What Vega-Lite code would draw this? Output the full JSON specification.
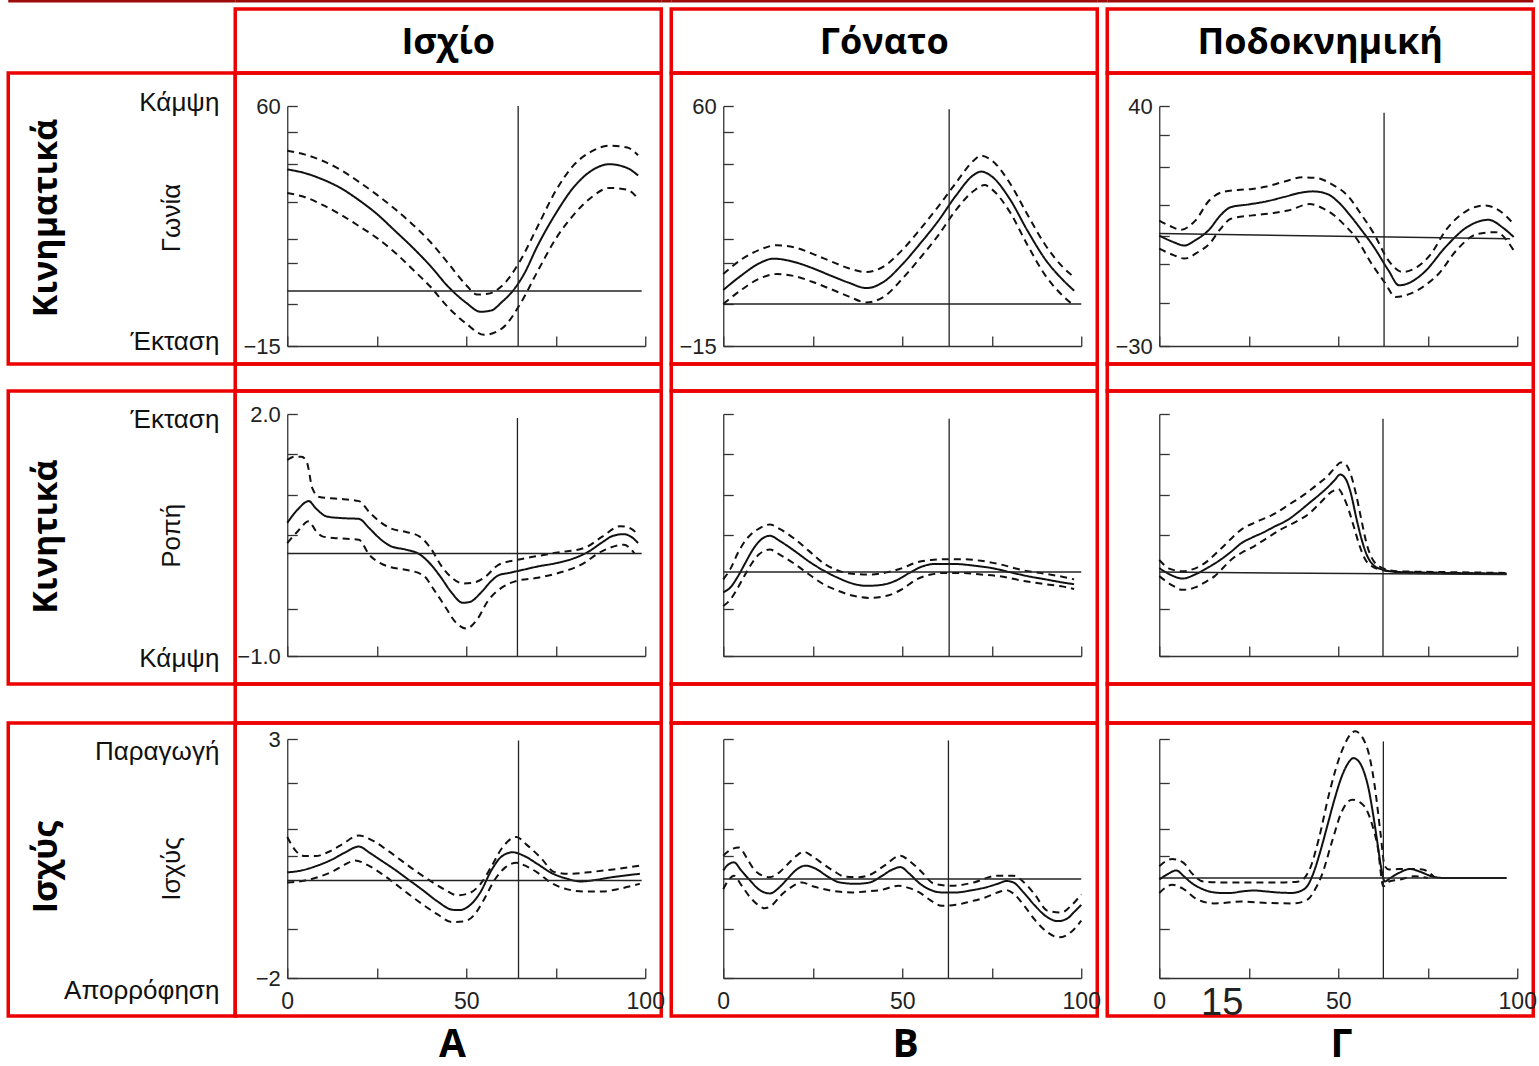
{
"$schema": "https://vega.github.io/schema/vega-lite/v6.json",
"background": "white",
"padding": {"left": 6.25, "top": 0, "right": 0, "bottom": 0},
"config": {
  "view": {"stroke": null},
  "axis": {"grid": false, "domainColor": "#333", "tickColor": "#333", "domainWidth": 1.3, "tickWidth": 1.3, "tickSize": -10, "labelFont": "Liberation Sans", "labelFontSize": 22, "labelColor": "#222", "labelFlush": false, "labelOverlap": false, "labelPadding": 17},
  "axisX": {"labelFontSize": 23, "labelPadding": 22}
},
"datasets": {
"hk": [
{"x":0,"v":40.2,"s":"m"},{"x":5,"v":39.0,"s":"m"},{"x":10,"v":37.0,"s":"m"},{"x":15,"v":34.3,"s":"m"},{"x":20,"v":30.6,"s":"m"},{"x":25,"v":26.3,"s":"m"},{"x":30,"v":21.1,"s":"m"},{"x":35,"v":15.8,"s":"m"},{"x":40,"v":10.0,"s":"m"},{"x":45,"v":3.5,"s":"m"},{"x":50,"v":-1.5,"s":"m"},{"x":54,"v":-4.3,"s":"m"},{"x":57,"v":-3.9,"s":"m"},{"x":60,"v":-1.2,"s":"m"},{"x":63,"v":2.2,"s":"m"},{"x":66,"v":7.2,"s":"m"},{"x":70,"v":16.5,"s":"m"},{"x":75,"v":26.4,"s":"m"},{"x":80,"v":34.6,"s":"m"},{"x":85,"v":39.8,"s":"m"},{"x":90,"v":41.8,"s":"m"},{"x":95,"v":40.6,"s":"m"},{"x":98,"v":38.3,"s":"m"},
{"x":0,"v":46.0,"s":"u"},{"x":5,"v":44.8,"s":"u"},{"x":10,"v":42.8,"s":"u"},{"x":15,"v":40.0,"s":"u"},{"x":20,"v":36.3,"s":"u"},{"x":25,"v":32.3,"s":"u"},{"x":30,"v":27.9,"s":"u"},{"x":35,"v":23.0,"s":"u"},{"x":40,"v":17.5,"s":"u"},{"x":45,"v":10.8,"s":"u"},{"x":50,"v":4.0,"s":"u"},{"x":53,"v":1.1,"s":"u"},{"x":56,"v":1.3,"s":"u"},{"x":60,"v":3.8,"s":"u"},{"x":65,"v":11.5,"s":"u"},{"x":70,"v":22.5,"s":"u"},{"x":75,"v":33.5,"s":"u"},{"x":80,"v":41.5,"s":"u"},{"x":85,"v":45.8,"s":"u"},{"x":90,"v":47.6,"s":"u"},{"x":95,"v":47.0,"s":"u"},{"x":98,"v":44.6,"s":"u"},
{"x":0,"v":32.8,"s":"l"},{"x":5,"v":31.5,"s":"l"},{"x":10,"v":29.0,"s":"l"},{"x":15,"v":26.0,"s":"l"},{"x":20,"v":22.5,"s":"l"},{"x":25,"v":18.8,"s":"l"},{"x":30,"v":14.3,"s":"l"},{"x":35,"v":9.0,"s":"l"},{"x":40,"v":3.5,"s":"l"},{"x":45,"v":-3.0,"s":"l"},{"x":50,"v":-8.0,"s":"l"},{"x":55,"v":-11.5,"s":"l"},{"x":60,"v":-9.5,"s":"l"},{"x":65,"v":-2.0,"s":"l"},{"x":70,"v":8.5,"s":"l"},{"x":75,"v":18.5,"s":"l"},{"x":80,"v":26.0,"s":"l"},{"x":85,"v":31.5,"s":"l"},{"x":90,"v":34.4,"s":"l"},{"x":95,"v":33.8,"s":"l"},{"x":98,"v":31.0,"s":"l"}
],
"kk": [
{"x":0,"v":2.5,"s":"m"},{"x":5,"v":7.0,"s":"m"},{"x":10,"v":10.8,"s":"m"},{"x":14,"v":12.3,"s":"m"},{"x":20,"v":11.2,"s":"m"},{"x":25,"v":9.3,"s":"m"},{"x":30,"v":7.0,"s":"m"},{"x":35,"v":4.8,"s":"m"},{"x":40,"v":3.1,"s":"m"},{"x":45,"v":5.2,"s":"m"},{"x":50,"v":10.5,"s":"m"},{"x":55,"v":17.0,"s":"m"},{"x":60,"v":24.0,"s":"m"},{"x":65,"v":32.0,"s":"m"},{"x":70,"v":38.5,"s":"m"},{"x":72,"v":39.5,"s":"m"},{"x":75,"v":38.0,"s":"m"},{"x":80,"v":31.0,"s":"m"},{"x":85,"v":21.0,"s":"m"},{"x":90,"v":12.0,"s":"m"},{"x":95,"v":5.5,"s":"m"},{"x":98,"v":2.3,"s":"m"},
{"x":0,"v":7.5,"s":"u"},{"x":5,"v":12.0,"s":"u"},{"x":10,"v":15.0,"s":"u"},{"x":15,"v":16.5,"s":"u"},{"x":20,"v":15.8,"s":"u"},{"x":25,"v":13.8,"s":"u"},{"x":30,"v":11.5,"s":"u"},{"x":35,"v":9.3,"s":"u"},{"x":40,"v":8.1,"s":"u"},{"x":45,"v":10.0,"s":"u"},{"x":50,"v":15.0,"s":"u"},{"x":55,"v":21.5,"s":"u"},{"x":60,"v":28.5,"s":"u"},{"x":65,"v":36.0,"s":"u"},{"x":70,"v":43.0,"s":"u"},{"x":72,"v":44.5,"s":"u"},{"x":75,"v":43.0,"s":"u"},{"x":80,"v":36.0,"s":"u"},{"x":85,"v":26.0,"s":"u"},{"x":90,"v":16.5,"s":"u"},{"x":95,"v":9.5,"s":"u"},{"x":98,"v":6.5,"s":"u"},
{"x":0,"v":-1.9,"s":"l"},{"x":5,"v":2.5,"s":"l"},{"x":10,"v":6.0,"s":"l"},{"x":15,"v":7.5,"s":"l"},{"x":20,"v":6.8,"s":"l"},{"x":25,"v":5.0,"s":"l"},{"x":30,"v":2.8,"s":"l"},{"x":35,"v":0.5,"s":"l"},{"x":40,"v":-1.4,"s":"l"},{"x":45,"v":0.5,"s":"l"},{"x":50,"v":6.0,"s":"l"},{"x":55,"v":12.5,"s":"l"},{"x":60,"v":19.5,"s":"l"},{"x":65,"v":27.5,"s":"l"},{"x":70,"v":33.5,"s":"l"},{"x":73,"v":35.3,"s":"l"},{"x":75,"v":34.0,"s":"l"},{"x":80,"v":27.0,"s":"l"},{"x":85,"v":16.5,"s":"l"},{"x":90,"v":7.0,"s":"l"},{"x":95,"v":0.5,"s":"l"},{"x":98,"v":-2.4,"s":"l"}
],
"ak": [
{"x":0,"v":2.2,"s":"m"},{"x":4,"v":0.3,"s":"m"},{"x":7,"v":-0.7,"s":"m"},{"x":10,"v":0.8,"s":"m"},{"x":14,"v":4.0,"s":"m"},{"x":17,"v":8.0,"s":"m"},{"x":20,"v":10.5,"s":"m"},{"x":25,"v":11.3,"s":"m"},{"x":30,"v":12.2,"s":"m"},{"x":35,"v":13.5,"s":"m"},{"x":40,"v":14.8,"s":"m"},{"x":43,"v":15.1,"s":"m"},{"x":47,"v":14.3,"s":"m"},{"x":50,"v":12.0,"s":"m"},{"x":53,"v":8.5,"s":"m"},{"x":56,"v":4.5,"s":"m"},{"x":60,"v":-1.2,"s":"m"},{"x":64,"v":-7.9,"s":"m"},{"x":67,"v":-12.3,"s":"m"},{"x":70,"v":-11.5,"s":"m"},{"x":74,"v":-8.5,"s":"m"},{"x":80,"v":-1.1,"s":"m"},{"x":86,"v":4.7,"s":"m"},{"x":92,"v":6.8,"s":"m"},{"x":96,"v":4.5,"s":"m"},{"x":99,"v":1.8,"s":"m"},
{"x":0,"v":6.6,"s":"u"},{"x":3,"v":5.0,"s":"u"},{"x":6,"v":3.9,"s":"u"},{"x":10,"v":6.5,"s":"u"},{"x":14,"v":12.5,"s":"u"},{"x":18,"v":15.0,"s":"u"},{"x":22,"v":15.5,"s":"u"},{"x":26,"v":15.8,"s":"u"},{"x":30,"v":16.5,"s":"u"},{"x":35,"v":18.0,"s":"u"},{"x":40,"v":19.2,"s":"u"},{"x":44,"v":19.0,"s":"u"},{"x":48,"v":17.3,"s":"u"},{"x":53,"v":13.4,"s":"u"},{"x":56,"v":9.0,"s":"u"},{"x":60,"v":2.7,"s":"u"},{"x":64,"v":-5.0,"s":"u"},{"x":68,"v":-8.4,"s":"u"},{"x":72,"v":-7.0,"s":"u"},{"x":76,"v":-3.0,"s":"u"},{"x":80,"v":3.7,"s":"u"},{"x":86,"v":9.5,"s":"u"},{"x":91,"v":11.0,"s":"u"},{"x":95,"v":9.5,"s":"u"},{"x":99,"v":5.6,"s":"u"},
{"x":0,"v":-1.6,"s":"l"},{"x":4,"v":-3.5,"s":"l"},{"x":7,"v":-4.5,"s":"l"},{"x":11,"v":-2.5,"s":"l"},{"x":14,"v":-0.2,"s":"l"},{"x":17,"v":4.0,"s":"l"},{"x":20,"v":7.1,"s":"l"},{"x":26,"v":8.1,"s":"l"},{"x":32,"v":8.8,"s":"l"},{"x":36,"v":9.5,"s":"l"},{"x":42,"v":11.4,"s":"l"},{"x":46,"v":10.0,"s":"l"},{"x":49,"v":8.0,"s":"l"},{"x":52,"v":5.0,"s":"l"},{"x":55,"v":1.5,"s":"l"},{"x":59,"v":-5.5,"s":"l"},{"x":63,"v":-11.5,"s":"l"},{"x":66,"v":-15.7,"s":"l"},{"x":70,"v":-14.8,"s":"l"},{"x":74,"v":-12.5,"s":"l"},{"x":78,"v":-9.0,"s":"l"},{"x":83,"v":-2.1,"s":"l"},{"x":89,"v":2.7,"s":"l"},{"x":94,"v":3.2,"s":"l"},{"x":99,"v":-2.1,"s":"l"}
],
"hm": [
{"x":0,"v":0.65,"s":"m"},{"x":3,"v":0.82,"s":"m"},{"x":6,"v":0.92,"s":"m"},{"x":8,"v":0.83,"s":"m"},{"x":11,"v":0.73,"s":"m"},{"x":15,"v":0.71,"s":"m"},{"x":20,"v":0.70,"s":"m"},{"x":23,"v":0.58,"s":"m"},{"x":26,"v":0.45,"s":"m"},{"x":29,"v":0.36,"s":"m"},{"x":33,"v":0.32,"s":"m"},{"x":37,"v":0.26,"s":"m"},{"x":40,"v":0.14,"s":"m"},{"x":43,"v":-0.03,"s":"m"},{"x":46,"v":-0.22,"s":"m"},{"x":49,"v":-0.34,"s":"m"},{"x":51,"v":-0.33,"s":"m"},{"x":54,"v":-0.22,"s":"m"},{"x":57,"v":-0.07,"s":"m"},{"x":59,"v":0.0,"s":"m"},{"x":62,"v":0.03,"s":"m"},{"x":66,"v":0.07,"s":"m"},{"x":70,"v":0.11,"s":"m"},{"x":75,"v":0.15,"s":"m"},{"x":80,"v":0.21,"s":"m"},{"x":84,"v":0.29,"s":"m"},{"x":88,"v":0.41,"s":"m"},{"x":91,"v":0.49,"s":"m"},{"x":94,"v":0.51,"s":"m"},{"x":96,"v":0.48,"s":"m"},{"x":98,"v":0.40,"s":"m"},
{"x":0,"v":1.43,"s":"u"},{"x":2,"v":1.47,"s":"u"},{"x":4,"v":1.47,"s":"u"},{"x":5.5,"v":1.40,"s":"u"},{"x":7,"v":1.08,"s":"u"},{"x":9,"v":0.97,"s":"u"},{"x":14,"v":0.95,"s":"u"},{"x":20,"v":0.92,"s":"u"},{"x":23,"v":0.78,"s":"u"},{"x":26,"v":0.66,"s":"u"},{"x":29,"v":0.58,"s":"u"},{"x":33,"v":0.54,"s":"u"},{"x":37,"v":0.48,"s":"u"},{"x":40,"v":0.34,"s":"u"},{"x":43,"v":0.12,"s":"u"},{"x":46,"v":-0.03,"s":"u"},{"x":49,"v":-0.10,"s":"u"},{"x":52,"v":-0.09,"s":"u"},{"x":55,"v":-0.03,"s":"u"},{"x":59,"v":0.13,"s":"u"},{"x":64,"v":0.19,"s":"u"},{"x":70,"v":0.24,"s":"u"},{"x":75,"v":0.28,"s":"u"},{"x":83,"v":0.34,"s":"u"},{"x":88,"v":0.48,"s":"u"},{"x":93,"v":0.61,"s":"u"},{"x":96,"v":0.58,"s":"u"},{"x":98,"v":0.50,"s":"u"},
{"x":0,"v":0.40,"s":"l"},{"x":3,"v":0.55,"s":"l"},{"x":6,"v":0.67,"s":"l"},{"x":8,"v":0.55,"s":"l"},{"x":10,"v":0.48,"s":"l"},{"x":14,"v":0.46,"s":"l"},{"x":20,"v":0.44,"s":"l"},{"x":23,"v":0.25,"s":"l"},{"x":26,"v":0.15,"s":"l"},{"x":29,"v":0.10,"s":"l"},{"x":33,"v":0.07,"s":"l"},{"x":38,"v":0.0,"s":"l"},{"x":41,"v":-0.18,"s":"l"},{"x":44,"v":-0.38,"s":"l"},{"x":47,"v":-0.58,"s":"l"},{"x":50,"v":-0.66,"s":"l"},{"x":53,"v":-0.55,"s":"l"},{"x":56,"v":-0.32,"s":"l"},{"x":60,"v":-0.15,"s":"l"},{"x":64,"v":-0.07,"s":"l"},{"x":70,"v":-0.03,"s":"l"},{"x":75,"v":0.02,"s":"l"},{"x":82,"v":0.13,"s":"l"},{"x":88,"v":0.30,"s":"l"},{"x":94,"v":0.38,"s":"l"},{"x":97,"v":0.27,"s":"l"}
],
"km": [
{"x":0,"v":-0.21,"s":"m"},{"x":2,"v":-0.15,"s":"m"},{"x":4,"v":-0.02,"s":"m"},{"x":6,"v":0.14,"s":"m"},{"x":8,"v":0.30,"s":"m"},{"x":10,"v":0.42,"s":"m"},{"x":13,"v":0.49,"s":"m"},{"x":16,"v":0.42,"s":"m"},{"x":20,"v":0.30,"s":"m"},{"x":24,"v":0.17,"s":"m"},{"x":28,"v":0.06,"s":"m"},{"x":32,"v":-0.03,"s":"m"},{"x":36,"v":-0.10,"s":"m"},{"x":40,"v":-0.13,"s":"m"},{"x":44,"v":-0.12,"s":"m"},{"x":48,"v":-0.07,"s":"m"},{"x":52,"v":0.03,"s":"m"},{"x":55,"v":0.10,"s":"m"},{"x":59,"v":0.14,"s":"m"},{"x":65,"v":0.14,"s":"m"},{"x":70,"v":0.12,"s":"m"},{"x":75,"v":0.09,"s":"m"},{"x":80,"v":0.04,"s":"m"},{"x":85,"v":-0.01,"s":"m"},{"x":90,"v":-0.05,"s":"m"},{"x":95,"v":-0.09,"s":"m"},{"x":98,"v":-0.11,"s":"m"},
{"x":0,"v":-0.05,"s":"u"},{"x":2,"v":0.08,"s":"u"},{"x":4,"v":0.27,"s":"u"},{"x":6,"v":0.42,"s":"u"},{"x":8,"v":0.52,"s":"u"},{"x":10,"v":0.58,"s":"u"},{"x":13,"v":0.63,"s":"u"},{"x":16,"v":0.57,"s":"u"},{"x":20,"v":0.45,"s":"u"},{"x":24,"v":0.30,"s":"u"},{"x":28,"v":0.15,"s":"u"},{"x":32,"v":0.06,"s":"u"},{"x":36,"v":0.02,"s":"u"},{"x":41,"v":0.01,"s":"u"},{"x":46,"v":0.04,"s":"u"},{"x":50,"v":0.09,"s":"u"},{"x":54,"v":0.16,"s":"u"},{"x":58,"v":0.19,"s":"u"},{"x":62,"v":0.20,"s":"u"},{"x":67,"v":0.20,"s":"u"},{"x":72,"v":0.18,"s":"u"},{"x":77,"v":0.14,"s":"u"},{"x":84,"v":0.06,"s":"u"},{"x":90,"v":0.02,"s":"u"},{"x":95,"v":-0.02,"s":"u"},{"x":98,"v":-0.05,"s":"u"},
{"x":0,"v":-0.38,"s":"l"},{"x":2,"v":-0.30,"s":"l"},{"x":4,"v":-0.16,"s":"l"},{"x":6,"v":0.0,"s":"l"},{"x":8,"v":0.15,"s":"l"},{"x":10,"v":0.26,"s":"l"},{"x":13,"v":0.32,"s":"l"},{"x":16,"v":0.25,"s":"l"},{"x":20,"v":0.14,"s":"l"},{"x":24,"v":0.01,"s":"l"},{"x":28,"v":-0.11,"s":"l"},{"x":32,"v":-0.19,"s":"l"},{"x":36,"v":-0.25,"s":"l"},{"x":41,"v":-0.28,"s":"l"},{"x":46,"v":-0.25,"s":"l"},{"x":50,"v":-0.17,"s":"l"},{"x":54,"v":-0.05,"s":"l"},{"x":58,"v":0.01,"s":"l"},{"x":62,"v":0.03,"s":"l"},{"x":67,"v":0.03,"s":"l"},{"x":72,"v":0.01,"s":"l"},{"x":77,"v":-0.01,"s":"l"},{"x":84,"v":-0.07,"s":"l"},{"x":90,"v":-0.11,"s":"l"},{"x":95,"v":-0.14,"s":"l"},{"x":98,"v":-0.17,"s":"l"}
],
"am": [
{"x":0,"v":0.09,"s":"m"},{"x":3,"v":0.01,"s":"m"},{"x":6.5,"v":-0.04,"s":"m"},{"x":10,"v":0.01,"s":"m"},{"x":13,"v":0.08,"s":"m"},{"x":17,"v":0.19,"s":"m"},{"x":20,"v":0.29,"s":"m"},{"x":23,"v":0.40,"s":"m"},{"x":26,"v":0.47,"s":"m"},{"x":29,"v":0.53,"s":"m"},{"x":32,"v":0.60,"s":"m"},{"x":36,"v":0.69,"s":"m"},{"x":39,"v":0.79,"s":"m"},{"x":42,"v":0.90,"s":"m"},{"x":45,"v":1.01,"s":"m"},{"x":47,"v":1.09,"s":"m"},{"x":49,"v":1.18,"s":"m"},{"x":50.5,"v":1.25,"s":"m"},{"x":52,"v":1.20,"s":"m"},{"x":53.5,"v":1.02,"s":"m"},{"x":55,"v":0.72,"s":"m"},{"x":56.5,"v":0.45,"s":"m"},{"x":58,"v":0.25,"s":"m"},{"x":60,"v":0.12,"s":"m"},{"x":62.5,"v":0.07,"s":"m"},{"x":67,"v":0.04,"s":"m"},{"x":80,"v":0.03,"s":"m"},{"x":97,"v":0.02,"s":"m"},
{"x":0,"v":0.19,"s":"u"},{"x":3,"v":0.08,"s":"u"},{"x":6.5,"v":0.05,"s":"u"},{"x":9,"v":0.07,"s":"u"},{"x":12,"v":0.13,"s":"u"},{"x":17,"v":0.32,"s":"u"},{"x":20,"v":0.45,"s":"u"},{"x":23,"v":0.57,"s":"u"},{"x":27,"v":0.66,"s":"u"},{"x":32.5,"v":0.77,"s":"u"},{"x":36,"v":0.87,"s":"u"},{"x":40.5,"v":1.00,"s":"u"},{"x":44,"v":1.12,"s":"u"},{"x":47,"v":1.23,"s":"u"},{"x":49,"v":1.33,"s":"u"},{"x":50.7,"v":1.40,"s":"u"},{"x":52,"v":1.38,"s":"u"},{"x":53.5,"v":1.25,"s":"u"},{"x":55,"v":1.00,"s":"u"},{"x":56.5,"v":0.68,"s":"u"},{"x":58,"v":0.38,"s":"u"},{"x":60,"v":0.17,"s":"u"},{"x":63,"v":0.08,"s":"u"},{"x":67,"v":0.05,"s":"u"},{"x":80,"v":0.04,"s":"u"},{"x":97,"v":0.03,"s":"u"},
{"x":0,"v":-0.01,"s":"l"},{"x":3.5,"v":-0.12,"s":"l"},{"x":6.5,"v":-0.18,"s":"l"},{"x":10,"v":-0.15,"s":"l"},{"x":13,"v":-0.08,"s":"l"},{"x":15.5,"v":-0.01,"s":"l"},{"x":18,"v":0.10,"s":"l"},{"x":20,"v":0.19,"s":"l"},{"x":23,"v":0.28,"s":"l"},{"x":26.5,"v":0.36,"s":"l"},{"x":30,"v":0.46,"s":"l"},{"x":34,"v":0.57,"s":"l"},{"x":38,"v":0.66,"s":"l"},{"x":42,"v":0.77,"s":"l"},{"x":45,"v":0.90,"s":"l"},{"x":48.3,"v":1.04,"s":"l"},{"x":50,"v":1.07,"s":"l"},{"x":51.5,"v":0.97,"s":"l"},{"x":53,"v":0.80,"s":"l"},{"x":54.5,"v":0.58,"s":"l"},{"x":56,"v":0.36,"s":"l"},{"x":57.5,"v":0.20,"s":"l"},{"x":59.5,"v":0.11,"s":"l"},{"x":62,"v":0.07,"s":"l"},{"x":67,"v":0.04,"s":"l"},{"x":80,"v":0.03,"s":"l"},{"x":97,"v":0.02,"s":"l"}
],
"hp": [
{"x":0,"v":0.21,"s":"m"},{"x":4,"v":0.25,"s":"m"},{"x":8,"v":0.34,"s":"m"},{"x":12,"v":0.46,"s":"m"},{"x":16,"v":0.62,"s":"m"},{"x":20,"v":0.75,"s":"m"},{"x":23,"v":0.62,"s":"m"},{"x":26,"v":0.47,"s":"m"},{"x":30,"v":0.27,"s":"m"},{"x":34,"v":0.05,"s":"m"},{"x":38,"v":-0.17,"s":"m"},{"x":42,"v":-0.40,"s":"m"},{"x":46,"v":-0.57,"s":"m"},{"x":48,"v":-0.58,"s":"m"},{"x":51,"v":-0.48,"s":"m"},{"x":54,"v":-0.20,"s":"m"},{"x":57,"v":0.25,"s":"m"},{"x":60,"v":0.55,"s":"m"},{"x":63,"v":0.63,"s":"m"},{"x":66,"v":0.56,"s":"m"},{"x":70,"v":0.38,"s":"m"},{"x":74,"v":0.19,"s":"m"},{"x":78,"v":0.08,"s":"m"},{"x":82,"v":0.02,"s":"m"},{"x":86,"v":0.05,"s":"m"},{"x":90,"v":0.10,"s":"m"},{"x":95,"v":0.15,"s":"m"},{"x":98.5,"v":0.18,"s":"m"},
{"x":0,"v":0.95,"s":"u"},{"x":2.5,"v":0.65,"s":"u"},{"x":5,"v":0.55,"s":"u"},{"x":8,"v":0.55,"s":"u"},{"x":11,"v":0.62,"s":"u"},{"x":15,"v":0.78,"s":"u"},{"x":20,"v":0.98,"s":"u"},{"x":24,"v":0.87,"s":"u"},{"x":28,"v":0.67,"s":"u"},{"x":32,"v":0.45,"s":"u"},{"x":36,"v":0.23,"s":"u"},{"x":40,"v":0.03,"s":"u"},{"x":44,"v":-0.15,"s":"u"},{"x":47.5,"v":-0.27,"s":"u"},{"x":51,"v":-0.22,"s":"u"},{"x":54,"v":-0.03,"s":"u"},{"x":57,"v":0.33,"s":"u"},{"x":60,"v":0.72,"s":"u"},{"x":64,"v":0.95,"s":"u"},{"x":67,"v":0.78,"s":"u"},{"x":71,"v":0.50,"s":"u"},{"x":74.5,"v":0.22,"s":"u"},{"x":79,"v":0.18,"s":"u"},{"x":85,"v":0.22,"s":"u"},{"x":92,"v":0.28,"s":"u"},{"x":98.5,"v":0.35,"s":"u"},
{"x":0,"v":0.0,"s":"l"},{"x":5,"v":0.04,"s":"l"},{"x":9,"v":0.12,"s":"l"},{"x":13,"v":0.24,"s":"l"},{"x":16,"v":0.37,"s":"l"},{"x":19,"v":0.46,"s":"l"},{"x":22,"v":0.38,"s":"l"},{"x":26,"v":0.20,"s":"l"},{"x":30,"v":-0.02,"s":"l"},{"x":34,"v":-0.25,"s":"l"},{"x":38,"v":-0.47,"s":"l"},{"x":42,"v":-0.67,"s":"l"},{"x":46,"v":-0.83,"s":"l"},{"x":49,"v":-0.82,"s":"l"},{"x":52,"v":-0.70,"s":"l"},{"x":55,"v":-0.35,"s":"l"},{"x":58,"v":0.06,"s":"l"},{"x":61,"v":0.32,"s":"l"},{"x":64,"v":0.41,"s":"l"},{"x":67,"v":0.33,"s":"l"},{"x":70,"v":0.20,"s":"l"},{"x":73.5,"v":0.0,"s":"l"},{"x":78,"v":-0.14,"s":"l"},{"x":83,"v":-0.19,"s":"l"},{"x":88,"v":-0.19,"s":"l"},{"x":93,"v":-0.13,"s":"l"},{"x":98.5,"v":-0.03,"s":"l"}
],
"kp": [
{"x":0,"v":0.25,"s":"m"},{"x":1.5,"v":0.38,"s":"m"},{"x":3,"v":0.42,"s":"m"},{"x":5,"v":0.25,"s":"m"},{"x":7.5,"v":0.04,"s":"m"},{"x":10,"v":-0.15,"s":"m"},{"x":13,"v":-0.23,"s":"m"},{"x":16,"v":-0.08,"s":"m"},{"x":18,"v":0.08,"s":"m"},{"x":20.5,"v":0.27,"s":"m"},{"x":23,"v":0.35,"s":"m"},{"x":26,"v":0.28,"s":"m"},{"x":29,"v":0.13,"s":"m"},{"x":32.5,"v":0.0,"s":"m"},{"x":37,"v":-0.03,"s":"m"},{"x":41,"v":0.0,"s":"m"},{"x":44,"v":0.12,"s":"m"},{"x":47,"v":0.26,"s":"m"},{"x":49.5,"v":0.32,"s":"m"},{"x":52,"v":0.18,"s":"m"},{"x":55,"v":-0.03,"s":"m"},{"x":58,"v":-0.16,"s":"m"},{"x":61,"v":-0.21,"s":"m"},{"x":65,"v":-0.21,"s":"m"},{"x":69,"v":-0.17,"s":"m"},{"x":73,"v":-0.11,"s":"m"},{"x":77,"v":-0.02,"s":"m"},{"x":79,"v":0.03,"s":"m"},{"x":81,"v":0.0,"s":"m"},{"x":84,"v":-0.22,"s":"m"},{"x":87,"v":-0.48,"s":"m"},{"x":90,"v":-0.70,"s":"m"},{"x":93.5,"v":-0.81,"s":"m"},{"x":96,"v":-0.76,"s":"m"},{"x":98,"v":-0.62,"s":"m"},{"x":100,"v":-0.47,"s":"m"},
{"x":0,"v":0.56,"s":"u"},{"x":2,"v":0.68,"s":"u"},{"x":4.4,"v":0.73,"s":"u"},{"x":6.5,"v":0.52,"s":"u"},{"x":8.5,"v":0.28,"s":"u"},{"x":11,"v":0.14,"s":"u"},{"x":13,"v":0.11,"s":"u"},{"x":15.5,"v":0.20,"s":"u"},{"x":18,"v":0.38,"s":"u"},{"x":20.5,"v":0.56,"s":"u"},{"x":22.5,"v":0.64,"s":"u"},{"x":25,"v":0.54,"s":"u"},{"x":28,"v":0.38,"s":"u"},{"x":31,"v":0.23,"s":"u"},{"x":34,"v":0.12,"s":"u"},{"x":38,"v":0.11,"s":"u"},{"x":41,"v":0.16,"s":"u"},{"x":45,"v":0.35,"s":"u"},{"x":49.5,"v":0.56,"s":"u"},{"x":52,"v":0.45,"s":"u"},{"x":55,"v":0.25,"s":"u"},{"x":59,"v":-0.03,"s":"u"},{"x":64,"v":-0.07,"s":"u"},{"x":70,"v":0.0,"s":"u"},{"x":76.5,"v":0.14,"s":"u"},{"x":81,"v":0.14,"s":"u"},{"x":84,"v":0.0,"s":"u"},{"x":87,"v":-0.25,"s":"u"},{"x":90.5,"v":-0.59,"s":"u"},{"x":94.5,"v":-0.63,"s":"u"},{"x":97,"v":-0.50,"s":"u"},{"x":100,"v":-0.25,"s":"u"},
{"x":0,"v":-0.14,"s":"l"},{"x":1.5,"v":0.05,"s":"l"},{"x":3,"v":0.14,"s":"l"},{"x":5,"v":-0.05,"s":"l"},{"x":7.5,"v":-0.31,"s":"l"},{"x":9.5,"v":-0.46,"s":"l"},{"x":11.5,"v":-0.54,"s":"l"},{"x":14,"v":-0.45,"s":"l"},{"x":16,"v":-0.28,"s":"l"},{"x":19,"v":-0.10,"s":"l"},{"x":22,"v":0.0,"s":"l"},{"x":25,"v":-0.08,"s":"l"},{"x":28,"v":-0.14,"s":"l"},{"x":32,"v":-0.19,"s":"l"},{"x":36,"v":-0.21,"s":"l"},{"x":40,"v":-0.19,"s":"l"},{"x":44,"v":-0.16,"s":"l"},{"x":49,"v":-0.07,"s":"l"},{"x":52,"v":-0.12,"s":"l"},{"x":55,"v":-0.22,"s":"l"},{"x":58,"v":-0.38,"s":"l"},{"x":61,"v":-0.49,"s":"l"},{"x":65,"v":-0.47,"s":"l"},{"x":69,"v":-0.40,"s":"l"},{"x":73,"v":-0.32,"s":"l"},{"x":77,"v":-0.20,"s":"l"},{"x":79,"v":-0.16,"s":"l"},{"x":81,"v":-0.23,"s":"l"},{"x":84,"v":-0.48,"s":"l"},{"x":87,"v":-0.78,"s":"l"},{"x":90.5,"v":-1.04,"s":"l"},{"x":93.7,"v":-1.15,"s":"l"},{"x":96,"v":-1.10,"s":"l"},{"x":98,"v":-0.98,"s":"l"},{"x":100,"v":-0.80,"s":"l"}
],
"ap": [
{"x":0,"v":0.06,"s":"m"},{"x":2.5,"v":0.18,"s":"m"},{"x":4.7,"v":0.25,"s":"m"},{"x":7,"v":0.12,"s":"m"},{"x":9,"v":-0.01,"s":"m"},{"x":11.5,"v":-0.12,"s":"m"},{"x":14,"v":-0.19,"s":"m"},{"x":17,"v":-0.22,"s":"m"},{"x":20,"v":-0.22,"s":"m"},{"x":23,"v":-0.19,"s":"m"},{"x":26.5,"v":-0.17,"s":"m"},{"x":30,"v":-0.19,"s":"m"},{"x":33,"v":-0.21,"s":"m"},{"x":37,"v":-0.22,"s":"m"},{"x":39.5,"v":-0.18,"s":"m"},{"x":41.5,"v":-0.06,"s":"m"},{"x":43,"v":0.18,"s":"m"},{"x":45,"v":0.65,"s":"m"},{"x":47,"v":1.20,"s":"m"},{"x":49,"v":1.75,"s":"m"},{"x":51,"v":2.22,"s":"m"},{"x":53,"v":2.52,"s":"m"},{"x":54.2,"v":2.60,"s":"m"},{"x":55.5,"v":2.55,"s":"m"},{"x":57,"v":2.35,"s":"m"},{"x":58.5,"v":1.95,"s":"m"},{"x":60,"v":1.30,"s":"m"},{"x":61,"v":0.80,"s":"m"},{"x":62,"v":0.30,"s":"m"},{"x":63,"v":0.02,"s":"m"},{"x":64.5,"v":0.09,"s":"m"},{"x":67,"v":0.20,"s":"m"},{"x":70,"v":0.28,"s":"m"},{"x":73,"v":0.22,"s":"m"},{"x":76,"v":0.13,"s":"m"},{"x":80,"v":0.09,"s":"m"},{"x":97,"v":0.09,"s":"m"},
{"x":0,"v":0.34,"s":"u"},{"x":3.6,"v":0.49,"s":"u"},{"x":6.8,"v":0.41,"s":"u"},{"x":9,"v":0.20,"s":"u"},{"x":12.3,"v":0.02,"s":"u"},{"x":17,"v":0.0,"s":"u"},{"x":26,"v":0.0,"s":"u"},{"x":35,"v":0.0,"s":"u"},{"x":39,"v":0.02,"s":"u"},{"x":42,"v":0.27,"s":"u"},{"x":44.5,"v":0.89,"s":"u"},{"x":47.5,"v":1.87,"s":"u"},{"x":50.8,"v":2.71,"s":"u"},{"x":54.7,"v":3.16,"s":"u"},{"x":57.9,"v":2.85,"s":"u"},{"x":60.2,"v":2.01,"s":"u"},{"x":61.8,"v":1.03,"s":"u"},{"x":63,"v":0.34,"s":"u"},{"x":64.2,"v":0.27,"s":"u"},{"x":67,"v":0.28,"s":"u"},{"x":71,"v":0.28,"s":"u"},{"x":73.6,"v":0.27,"s":"u"},{"x":77,"v":0.10,"s":"u"},
{"x":0,"v":-0.22,"s":"l"},{"x":3.6,"v":-0.05,"s":"l"},{"x":6.8,"v":-0.14,"s":"l"},{"x":10.7,"v":-0.36,"s":"l"},{"x":15.4,"v":-0.44,"s":"l"},{"x":23,"v":-0.40,"s":"l"},{"x":30,"v":-0.43,"s":"l"},{"x":37.4,"v":-0.44,"s":"l"},{"x":41.4,"v":-0.36,"s":"l"},{"x":43.5,"v":-0.15,"s":"l"},{"x":45.3,"v":0.13,"s":"l"},{"x":48.4,"v":0.89,"s":"l"},{"x":50.8,"v":1.45,"s":"l"},{"x":53.9,"v":1.73,"s":"l"},{"x":56,"v":1.68,"s":"l"},{"x":57.9,"v":1.52,"s":"l"},{"x":59.5,"v":1.20,"s":"l"},{"x":61,"v":0.75,"s":"l"},{"x":62.6,"v":-0.08,"s":"l"},{"x":64.2,"v":0.02,"s":"l"},{"x":67.3,"v":0.06,"s":"l"},{"x":71.2,"v":0.13,"s":"l"},{"x":75,"v":0.09,"s":"l"}
]
},
"columns": 6,
"spacing": 0,
"bounds": "flush",
"concat": [
  {"width": 227, "height": 2.5, "view": {"fill": "#9d0a0a"}, "data": {"values": [{}]}, "mark": {"type": "text", "text": "", "fontSize": 0}},
  {"width": 426, "height": 2.5, "view": {"fill": "#9d0a0a"}, "data": {"values": [{}]}, "mark": {"type": "text", "text": "", "fontSize": 0}},
  {"width": 10, "height": 2.5, "view": {"fill": "#9d0a0a"}, "data": {"values": [{}]}, "mark": {"type": "text", "text": "", "fontSize": 0}},
  {"width": 426, "height": 2.5, "view": {"fill": "#9d0a0a"}, "data": {"values": [{}]}, "mark": {"type": "text", "text": "", "fontSize": 0}},
  {"width": 10, "height": 2.5, "view": {"fill": "#9d0a0a"}, "data": {"values": [{}]}, "mark": {"type": "text", "text": "", "fontSize": 0}},
  {"width": 426, "height": 2.5, "view": {"fill": "#9d0a0a"}, "data": {"values": [{}]}, "mark": {"type": "text", "text": "", "fontSize": 0}},

  {"width": 227, "height": 5.5, "data": {"values": [{}]}, "mark": {"type": "text", "text": "", "fontSize": 0}},
  {"width": 426, "height": 5.5, "data": {"values": [{}]}, "mark": {"type": "text", "text": "", "fontSize": 0}},
  {"width": 10, "height": 5.5, "data": {"values": [{}]}, "mark": {"type": "text", "text": "", "fontSize": 0}},
  {"width": 426, "height": 5.5, "data": {"values": [{}]}, "mark": {"type": "text", "text": "", "fontSize": 0}},
  {"width": 10, "height": 5.5, "data": {"values": [{}]}, "mark": {"type": "text", "text": "", "fontSize": 0}},
  {"width": 426, "height": 5.5, "data": {"values": [{}]}, "mark": {"type": "text", "text": "", "fontSize": 0}},

  {"width": 227, "height": 64, "data": {"values": [{}]}, "mark": {"type": "text", "text": "", "fontSize": 0}},
  {"width": 426, "height": 64, "view": {"stroke": "#ec0000", "strokeWidth": 3.5}, "data": {"values": [{}]}, "mark": {"type": "text", "text": "Ισχίο", "font": "Open Sans", "fontWeight": "bold", "fontSize": 36, "color": "#000", "align": "center", "baseline": "middle"}, "encoding": {"x": {"datum": 50, "type": "quantitative", "scale": {"domain": [0, 100]}, "axis": null}, "y": {"datum": 47, "type": "quantitative", "scale": {"domain": [0, 100]}, "axis": null}}},
  {"width": 10, "height": 64, "data": {"values": [{}]}, "mark": {"type": "text", "text": "", "fontSize": 0}},
  {"width": 426, "height": 64, "view": {"stroke": "#ec0000", "strokeWidth": 3.5}, "data": {"values": [{}]}, "mark": {"type": "text", "text": "Γόνατο", "font": "Open Sans", "fontWeight": "bold", "fontSize": 36, "color": "#000", "align": "center", "baseline": "middle"}, "encoding": {"x": {"datum": 50, "type": "quantitative", "scale": {"domain": [0, 100]}, "axis": null}, "y": {"datum": 47, "type": "quantitative", "scale": {"domain": [0, 100]}, "axis": null}}},
  {"width": 10, "height": 64, "data": {"values": [{}]}, "mark": {"type": "text", "text": "", "fontSize": 0}},
  {"width": 426, "height": 64, "view": {"stroke": "#ec0000", "strokeWidth": 3.5}, "data": {"values": [{}]}, "mark": {"type": "text", "text": "Ποδοκνημική", "font": "Open Sans", "fontWeight": "bold", "fontSize": 36, "color": "#000", "align": "center", "baseline": "middle"}, "encoding": {"x": {"datum": 50, "type": "quantitative", "scale": {"domain": [0, 100]}, "axis": null}, "y": {"datum": 47, "type": "quantitative", "scale": {"domain": [0, 100]}, "axis": null}}},

  {"width": 227, "height": 291, "view": {"stroke": "#ec0000", "strokeWidth": 3.5}, "data": {"values": [{}]},
   "layer": [
    {"mark": {"type": "text", "text": "Κινηματικά", "font": "Open Sans", "fontWeight": "bold", "fontSize": 34, "angle": 270, "align": "center", "baseline": "middle", "color": "#000"}, "encoding": {"x": {"datum": 17, "type": "quantitative", "scale": {"domain": [0, 100]}, "axis": null}, "y": {"datum": 25, "type": "quantitative", "scale": {"domain": [-15, 60], "range": [273, 33], "nice": false, "zero": false}, "axis": null}}},
    {"mark": {"type": "text", "text": "Γωνία", "font": "Liberation Sans", "fontSize": 26, "angle": 270, "align": "center", "baseline": "middle", "color": "#111"}, "encoding": {"x": {"datum": 72}, "y": {"datum": 25}}},
    {"mark": {"type": "text", "text": "Κάμψη", "font": "Liberation Sans", "fontSize": 26, "align": "right", "baseline": "middle", "color": "#111"}, "encoding": {"x": {"datum": 93}, "y": {"datum": 60.9}}},
    {"mark": {"type": "text", "text": "Έκταση", "font": "Liberation Sans", "fontSize": 26, "align": "right", "baseline": "middle", "color": "#111"}, "encoding": {"x": {"datum": 93}, "y": {"datum": -13.75}}}
   ]},
  {"width": 426, "height": 291, "view": {"stroke": "#ec0000", "strokeWidth": 3.5},
   "layer": [
    {"data": {"name": "hk"}, "mark": {"type": "line", "interpolate": "monotone", "color": "#111", "strokeWidth": 2},
     "encoding": {
      "x": {"field": "x", "type": "quantitative", "scale": {"domain": [0, 100], "range": [52, 410], "nice": false, "zero": false}, "axis": {"values": [0, 25, 50, 75, 100], "title": null, "offset": -18, "labels": false}},
      "y": {"field": "v", "type": "quantitative", "scale": {"domain": [-15, 60], "range": [273, 33], "nice": false, "zero": false}, "axis": {"values": [60, 52, 42, 30, 18.5, 11, -2, -15], "title": null, "offset": -52, "labelExpr": "datum.value == 60 ? '60' : datum.value == -15 ? '−15' : ''"}},
      "strokeDash": {"field": "s", "type": "nominal", "scale": {"domain": ["m", "u", "l"], "range": [[1, 0], [7, 5], [7, 5]]}, "legend": null}}},
    {"data": {"values": [{}]}, "mark": {"type": "rule", "color": "#222", "strokeWidth": 1.5}, "encoding": {"x": {"datum": 0}, "x2": {"datum": 99}, "y": {"datum": 2.2}}},
    {"data": {"values": [{}]}, "mark": {"type": "rule", "color": "#222", "strokeWidth": 1.3}, "encoding": {"x": {"datum": 64.5}, "y": {"datum": -15}, "y2": {"datum": 60}}}
   ]},
  {"width": 10, "height": 291, "data": {"values": [{}]}, "mark": {"type": "text", "text": "", "fontSize": 0}},
  {"width": 426, "height": 291, "view": {"stroke": "#ec0000", "strokeWidth": 3.5},
   "layer": [
    {"data": {"name": "kk"}, "mark": {"type": "line", "interpolate": "monotone", "color": "#111", "strokeWidth": 2},
     "encoding": {
      "x": {"field": "x", "type": "quantitative", "scale": {"domain": [0, 100], "range": [52, 410], "nice": false, "zero": false}, "axis": {"values": [0, 25, 50, 75, 100], "title": null, "offset": -18, "labels": false}},
      "y": {"field": "v", "type": "quantitative", "scale": {"domain": [-15, 60], "range": [273, 33], "nice": false, "zero": false}, "axis": {"values": [60, 52, 42, 30, 18.5, 11, -2, -15], "title": null, "offset": -52, "labelExpr": "datum.value == 60 ? '60' : datum.value == -15 ? '−15' : ''"}},
      "strokeDash": {"field": "s", "type": "nominal", "scale": {"domain": ["m", "u", "l"], "range": [[1, 0], [7, 5], [7, 5]]}, "legend": null}}},
    {"data": {"values": [{}]}, "mark": {"type": "rule", "color": "#222", "strokeWidth": 1.5}, "encoding": {"x": {"datum": 0}, "x2": {"datum": 100}, "y": {"datum": -1.9}}},
    {"data": {"values": [{}]}, "mark": {"type": "rule", "color": "#222", "strokeWidth": 1.3}, "encoding": {"x": {"datum": 63.1}, "y": {"datum": -15}, "y2": {"datum": 59}}}
   ]},
  {"width": 10, "height": 291, "data": {"values": [{}]}, "mark": {"type": "text", "text": "", "fontSize": 0}},
  {"width": 426, "height": 291, "view": {"stroke": "#ec0000", "strokeWidth": 3.5},
   "layer": [
    {"data": {"name": "ak"}, "mark": {"type": "line", "interpolate": "monotone", "color": "#111", "strokeWidth": 2},
     "encoding": {
      "x": {"field": "x", "type": "quantitative", "scale": {"domain": [0, 100], "range": [52, 410], "nice": false, "zero": false}, "axis": {"values": [0, 25, 50, 75, 100], "title": null, "offset": -18, "labels": false}},
      "y": {"field": "v", "type": "quantitative", "scale": {"domain": [-30, 40], "range": [273, 33], "nice": false, "zero": false}, "axis": {"values": [40, 31.6, 22.3, 11.2, 2.2, -6, -17.6, -30], "title": null, "offset": -52, "labelExpr": "datum.value == 40 ? '40' : datum.value == -30 ? '−30' : ''"}},
      "strokeDash": {"field": "s", "type": "nominal", "scale": {"domain": ["m", "u", "l"], "range": [[1, 0], [7, 5], [7, 5]]}, "legend": null}}},
    {"data": {"values": [{}]}, "mark": {"type": "rule", "color": "#222", "strokeWidth": 1.5}, "encoding": {"x": {"datum": 0}, "x2": {"datum": 98}, "y": {"datum": 2.8}, "y2": {"datum": 1.3}}},
    {"data": {"values": [{}]}, "mark": {"type": "rule", "color": "#222", "strokeWidth": 1.3}, "encoding": {"x": {"datum": 62.8}, "y": {"datum": -30}, "y2": {"datum": 38}}}
   ]},

  {"width": 227, "height": 27, "data": {"values": [{}]}, "mark": {"type": "text", "text": "", "fontSize": 0}},
  {"width": 426, "height": 27, "view": {"stroke": "#ec0000", "strokeWidth": 3.5}, "data": {"values": [{}]}, "mark": {"type": "text", "text": "", "fontSize": 0}},
  {"width": 10, "height": 27, "data": {"values": [{}]}, "mark": {"type": "text", "text": "", "fontSize": 0}},
  {"width": 426, "height": 27, "view": {"stroke": "#ec0000", "strokeWidth": 3.5}, "data": {"values": [{}]}, "mark": {"type": "text", "text": "", "fontSize": 0}},
  {"width": 10, "height": 27, "data": {"values": [{}]}, "mark": {"type": "text", "text": "", "fontSize": 0}},
  {"width": 426, "height": 27, "view": {"stroke": "#ec0000", "strokeWidth": 3.5}, "data": {"values": [{}]}, "mark": {"type": "text", "text": "", "fontSize": 0}},

  {"width": 227, "height": 293, "view": {"stroke": "#ec0000", "strokeWidth": 3.5}, "data": {"values": [{}]},
   "layer": [
    {"mark": {"type": "text", "text": "Κινητικά", "font": "Open Sans", "fontWeight": "bold", "fontSize": 34, "angle": 270, "align": "center", "baseline": "middle", "color": "#000"}, "encoding": {"x": {"datum": 17, "type": "quantitative", "scale": {"domain": [0, 100]}, "axis": null}, "y": {"datum": 0.48, "type": "quantitative", "scale": {"domain": [-1, 2], "range": [265, 23], "nice": false, "zero": false}, "axis": null}}},
    {"mark": {"type": "text", "text": "Ροπή", "font": "Liberation Sans", "fontSize": 26, "angle": 270, "align": "center", "baseline": "middle", "color": "#111"}, "encoding": {"x": {"datum": 72}, "y": {"datum": 0.49}}},
    {"mark": {"type": "text", "text": "Έκταση", "font": "Liberation Sans", "fontSize": 26, "align": "right", "baseline": "middle", "color": "#111"}, "encoding": {"x": {"datum": 93}, "y": {"datum": 1.93}}},
    {"mark": {"type": "text", "text": "Κάμψη", "font": "Liberation Sans", "fontSize": 26, "align": "right", "baseline": "middle", "color": "#111"}, "encoding": {"x": {"datum": 93}, "y": {"datum": -1.04}}}
   ]},
  {"width": 426, "height": 293, "view": {"stroke": "#ec0000", "strokeWidth": 3.5},
   "layer": [
    {"data": {"name": "hm"}, "mark": {"type": "line", "interpolate": "monotone", "color": "#111", "strokeWidth": 2},
     "encoding": {
      "x": {"field": "x", "type": "quantitative", "scale": {"domain": [0, 100], "range": [52, 410], "nice": false, "zero": false}, "axis": {"values": [0, 25, 50, 75, 100], "title": null, "offset": -28, "labels": false}},
      "y": {"field": "v", "type": "quantitative", "scale": {"domain": [-1, 2], "range": [265, 23], "nice": false, "zero": false}, "axis": {"values": [2, 1.5, 1, 0.5, -0.42, -1], "title": null, "offset": -52, "labelExpr": "datum.value == 2 ? '2.0' : datum.value == -1 ? '−1.0' : ''"}},
      "strokeDash": {"field": "s", "type": "nominal", "scale": {"domain": ["m", "u", "l"], "range": [[1, 0], [7, 5], [7, 5]]}, "legend": null}}},
    {"data": {"values": [{}]}, "mark": {"type": "rule", "color": "#222", "strokeWidth": 1.5}, "encoding": {"x": {"datum": 0}, "x2": {"datum": 99}, "y": {"datum": 0.27}}},
    {"data": {"values": [{}]}, "mark": {"type": "rule", "color": "#222", "strokeWidth": 1.3}, "encoding": {"x": {"datum": 64.3}, "y": {"datum": -1}, "y2": {"datum": 1.95}}}
   ]},
  {"width": 10, "height": 293, "data": {"values": [{}]}, "mark": {"type": "text", "text": "", "fontSize": 0}},
  {"width": 426, "height": 293, "view": {"stroke": "#ec0000", "strokeWidth": 3.5},
   "layer": [
    {"data": {"name": "km"}, "mark": {"type": "line", "interpolate": "monotone", "color": "#111", "strokeWidth": 2},
     "encoding": {
      "x": {"field": "x", "type": "quantitative", "scale": {"domain": [0, 100], "range": [52, 410], "nice": false, "zero": false}, "axis": {"values": [0, 25, 50, 75, 100], "title": null, "offset": -28, "labels": false}},
      "y": {"field": "v", "type": "quantitative", "scale": {"domain": [-1, 2], "range": [265, 23], "nice": false, "zero": false}, "axis": {"values": [2, 1.5, 1, 0.5, -0.42, -1], "title": null, "offset": -52, "labels": false}},
      "strokeDash": {"field": "s", "type": "nominal", "scale": {"domain": ["m", "u", "l"], "range": [[1, 0], [7, 5], [7, 5]]}, "legend": null}}},
    {"data": {"values": [{}]}, "mark": {"type": "rule", "color": "#222", "strokeWidth": 1.5}, "encoding": {"x": {"datum": 0}, "x2": {"datum": 100}, "y": {"datum": 0.04}}},
    {"data": {"values": [{}]}, "mark": {"type": "rule", "color": "#222", "strokeWidth": 1.3}, "encoding": {"x": {"datum": 63.1}, "y": {"datum": -1}, "y2": {"datum": 1.94}}}
   ]},
  {"width": 10, "height": 293, "data": {"values": [{}]}, "mark": {"type": "text", "text": "", "fontSize": 0}},
  {"width": 426, "height": 293, "view": {"stroke": "#ec0000", "strokeWidth": 3.5},
   "layer": [
    {"data": {"name": "am"}, "mark": {"type": "line", "interpolate": "monotone", "color": "#111", "strokeWidth": 2},
     "encoding": {
      "x": {"field": "x", "type": "quantitative", "scale": {"domain": [0, 100], "range": [52, 410], "nice": false, "zero": false}, "axis": {"values": [0, 25, 50, 75, 100], "title": null, "offset": -28, "labels": false}},
      "y": {"field": "v", "type": "quantitative", "scale": {"domain": [-1, 2], "range": [265, 23], "nice": false, "zero": false}, "axis": {"values": [2, 1.5, 1, 0.5, -0.42, -1], "title": null, "offset": -52, "labels": false}},
      "strokeDash": {"field": "s", "type": "nominal", "scale": {"domain": ["m", "u", "l"], "range": [[1, 0], [7, 5], [7, 5]]}, "legend": null}}},
    {"data": {"values": [{}]}, "mark": {"type": "rule", "color": "#222", "strokeWidth": 1.5}, "encoding": {"x": {"datum": 0}, "x2": {"datum": 97}, "y": {"datum": 0.04}, "y2": {"datum": 0.01}}},
    {"data": {"values": [{}]}, "mark": {"type": "rule", "color": "#222", "strokeWidth": 1.3}, "encoding": {"x": {"datum": 62.5}, "y": {"datum": -1}, "y2": {"datum": 1.94}}}
   ]},

  {"width": 227, "height": 39, "data": {"values": [{}]}, "mark": {"type": "text", "text": "", "fontSize": 0}},
  {"width": 426, "height": 39, "view": {"stroke": "#ec0000", "strokeWidth": 3.5}, "data": {"values": [{}]}, "mark": {"type": "text", "text": "", "fontSize": 0}},
  {"width": 10, "height": 39, "data": {"values": [{}]}, "mark": {"type": "text", "text": "", "fontSize": 0}},
  {"width": 426, "height": 39, "view": {"stroke": "#ec0000", "strokeWidth": 3.5}, "data": {"values": [{}]}, "mark": {"type": "text", "text": "", "fontSize": 0}},
  {"width": 10, "height": 39, "data": {"values": [{}]}, "mark": {"type": "text", "text": "", "fontSize": 0}},
  {"width": 426, "height": 39, "view": {"stroke": "#ec0000", "strokeWidth": 3.5}, "data": {"values": [{}]}, "mark": {"type": "text", "text": "", "fontSize": 0}},

  {"width": 227, "height": 293, "view": {"stroke": "#ec0000", "strokeWidth": 3.5}, "data": {"values": [{}]},
   "layer": [
    {"mark": {"type": "text", "text": "Ισχύς", "font": "Open Sans", "fontWeight": "bold", "fontSize": 34, "angle": 270, "align": "center", "baseline": "middle", "color": "#000"}, "encoding": {"x": {"datum": 17, "type": "quantitative", "scale": {"domain": [0, 100]}, "axis": null}, "y": {"datum": 0.32, "type": "quantitative", "scale": {"domain": [-2, 3], "range": [255, 16], "nice": false, "zero": false}, "axis": null}}},
    {"mark": {"type": "text", "text": "Ισχύς", "font": "Liberation Sans", "fontSize": 26, "angle": 270, "align": "center", "baseline": "middle", "color": "#111"}, "encoding": {"x": {"datum": 72}, "y": {"datum": 0.28}}},
    {"mark": {"type": "text", "text": "Παραγωγή", "font": "Liberation Sans", "fontSize": 26, "align": "right", "baseline": "middle", "color": "#111"}, "encoding": {"x": {"datum": 93}, "y": {"datum": 2.73}}},
    {"mark": {"type": "text", "text": "Απορρόφηση", "font": "Liberation Sans", "fontSize": 26, "align": "right", "baseline": "middle", "color": "#111"}, "encoding": {"x": {"datum": 93}, "y": {"datum": -2.27}}}
   ]},
  {"width": 426, "height": 293, "view": {"stroke": "#ec0000", "strokeWidth": 3.5},
   "layer": [
    {"data": {"name": "hp"}, "mark": {"type": "line", "interpolate": "monotone", "color": "#111", "strokeWidth": 2},
     "encoding": {
      "x": {"field": "x", "type": "quantitative", "scale": {"domain": [0, 100], "range": [52, 410], "nice": false, "zero": false}, "axis": {"values": [0, 25, 50, 75, 100], "title": null, "offset": -38, "labelExpr": "datum.value == 0 || datum.value == 50 || datum.value == 100 ? datum.label : ''"}},
      "y": {"field": "v", "type": "quantitative", "scale": {"domain": [-2, 3], "range": [255, 16], "nice": false, "zero": false}, "axis": {"values": [3, 2.07, 1.12, 0.55, -0.97, -2], "title": null, "offset": -52, "labelExpr": "datum.value == 3 ? '3' : datum.value == -2 ? '−2' : ''"}},
      "strokeDash": {"field": "s", "type": "nominal", "scale": {"domain": ["m", "u", "l"], "range": [[1, 0], [7, 5], [7, 5]]}, "legend": null}}},
    {"data": {"values": [{}]}, "mark": {"type": "rule", "color": "#222", "strokeWidth": 1.5}, "encoding": {"x": {"datum": 0}, "x2": {"datum": 99}, "y": {"datum": 0.04}}},
    {"data": {"values": [{}]}, "mark": {"type": "rule", "color": "#222", "strokeWidth": 1.3}, "encoding": {"x": {"datum": 64.6}, "y": {"datum": -2}, "y2": {"datum": 2.97}}}
   ]},
  {"width": 10, "height": 293, "data": {"values": [{}]}, "mark": {"type": "text", "text": "", "fontSize": 0}},
  {"width": 426, "height": 293, "view": {"stroke": "#ec0000", "strokeWidth": 3.5},
   "layer": [
    {"data": {"name": "kp"}, "mark": {"type": "line", "interpolate": "monotone", "color": "#111", "strokeWidth": 2},
     "encoding": {
      "x": {"field": "x", "type": "quantitative", "scale": {"domain": [0, 100], "range": [52, 410], "nice": false, "zero": false}, "axis": {"values": [0, 25, 50, 75, 100], "title": null, "offset": -38, "labelExpr": "datum.value == 0 || datum.value == 50 || datum.value == 100 ? datum.label : ''"}},
      "y": {"field": "v", "type": "quantitative", "scale": {"domain": [-2, 3], "range": [255, 16], "nice": false, "zero": false}, "axis": {"values": [3, 2.07, 1.12, 0.55, -0.97, -2], "title": null, "offset": -52, "labels": false}},
      "strokeDash": {"field": "s", "type": "nominal", "scale": {"domain": ["m", "u", "l"], "range": [[1, 0], [7, 5], [7, 5]]}, "legend": null}}},
    {"data": {"values": [{}]}, "mark": {"type": "rule", "color": "#222", "strokeWidth": 1.5}, "encoding": {"x": {"datum": 0}, "x2": {"datum": 100}, "y": {"datum": 0.07}}},
    {"data": {"values": [{}]}, "mark": {"type": "rule", "color": "#222", "strokeWidth": 1.3}, "encoding": {"x": {"datum": 62.9}, "y": {"datum": -2}, "y2": {"datum": 2.97}}}
   ]},
  {"width": 10, "height": 293, "data": {"values": [{}]}, "mark": {"type": "text", "text": "", "fontSize": 0}},
  {"width": 426, "height": 293, "view": {"stroke": "#ec0000", "strokeWidth": 3.5},
   "layer": [
    {"data": {"name": "ap"}, "mark": {"type": "line", "interpolate": "monotone", "color": "#111", "strokeWidth": 2},
     "encoding": {
      "x": {"field": "x", "type": "quantitative", "scale": {"domain": [0, 100], "range": [52, 410], "nice": false, "zero": false}, "axis": {"values": [0, 25, 50, 75, 100], "title": null, "offset": -38, "labelExpr": "datum.value == 0 || datum.value == 50 || datum.value == 100 ? datum.label : ''"}},
      "y": {"field": "v", "type": "quantitative", "scale": {"domain": [-2, 3], "range": [255, 16], "nice": false, "zero": false}, "axis": {"values": [3, 2.07, 1.12, 0.55, -0.97, -2], "title": null, "offset": -52, "labels": false}},
      "strokeDash": {"field": "s", "type": "nominal", "scale": {"domain": ["m", "u", "l"], "range": [[1, 0], [7, 5], [7, 5]]}, "legend": null}}},
    {"data": {"values": [{}]}, "mark": {"type": "rule", "color": "#222", "strokeWidth": 1.5}, "encoding": {"x": {"datum": 0}, "x2": {"datum": 97}, "y": {"datum": 0.09}}},
    {"data": {"values": [{}]}, "mark": {"type": "rule", "color": "#222", "strokeWidth": 1.3}, "encoding": {"x": {"datum": 62.6}, "y": {"datum": -2}, "y2": {"datum": 2.95}}},
    {"data": {"values": [{}]}, "mark": {"type": "text", "text": "15", "font": "Liberation Sans", "fontSize": 38, "color": "#222", "align": "center", "baseline": "middle"}, "encoding": {"x": {"datum": 17.6}, "y": {"datum": -2.55}}}
   ]},

  {"width": 227, "height": 51, "data": {"values": [{}]}, "mark": {"type": "text", "text": "", "fontSize": 0}},
  {"width": 426, "height": 51, "data": {"values": [{}]}, "mark": {"type": "text", "text": "Α", "font": "Open Sans", "fontWeight": "bold", "fontSize": 39, "color": "#000", "align": "center", "baseline": "middle"}, "encoding": {"x": {"datum": 51, "type": "quantitative", "scale": {"domain": [0, 100]}, "axis": null}, "y": {"datum": 43, "type": "quantitative", "scale": {"domain": [0, 100]}, "axis": null}}},
  {"width": 10, "height": 51, "data": {"values": [{}]}, "mark": {"type": "text", "text": "", "fontSize": 0}},
  {"width": 426, "height": 51, "data": {"values": [{}]}, "mark": {"type": "text", "text": "Β", "font": "Open Sans", "fontWeight": "bold", "fontSize": 39, "color": "#000", "align": "center", "baseline": "middle"}, "encoding": {"x": {"datum": 55, "type": "quantitative", "scale": {"domain": [0, 100]}, "axis": null}, "y": {"datum": 43, "type": "quantitative", "scale": {"domain": [0, 100]}, "axis": null}}},
  {"width": 10, "height": 51, "data": {"values": [{}]}, "mark": {"type": "text", "text": "", "fontSize": 0}},
  {"width": 426, "height": 51, "data": {"values": [{}]}, "mark": {"type": "text", "text": "Γ", "font": "Open Sans", "fontWeight": "bold", "fontSize": 39, "color": "#000", "align": "center", "baseline": "middle"}, "encoding": {"x": {"datum": 55, "type": "quantitative", "scale": {"domain": [0, 100]}, "axis": null}, "y": {"datum": 43, "type": "quantitative", "scale": {"domain": [0, 100]}, "axis": null}}}
]
}
